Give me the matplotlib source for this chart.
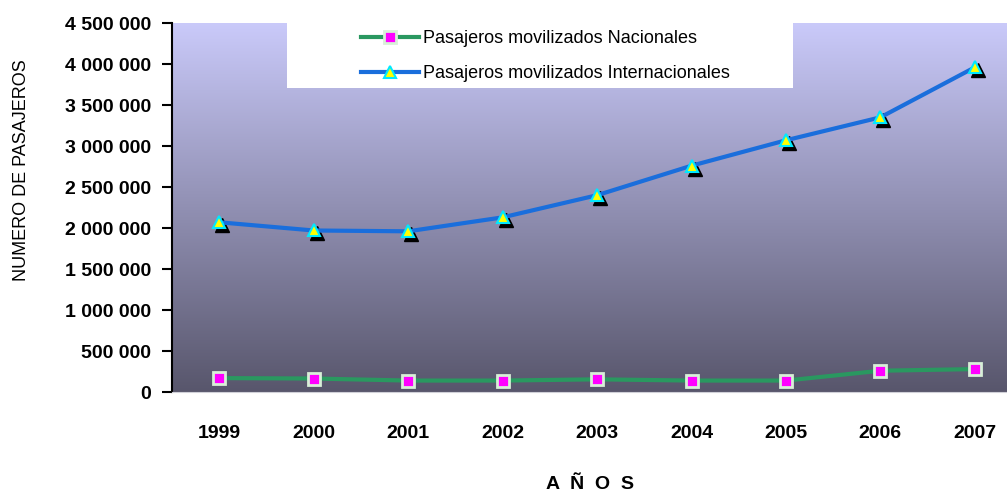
import numpy as np
import matplotlib
matplotlib.use("Agg")
import matplotlib.pyplot as plt
import matplotlib.transforms as mtransforms
from matplotlib.patches import Rectangle
from matplotlib.ticker import FuncFormatter

# data
years = ["1999", "2000", "2001", "2002", "2003", "2004", "2005", "2006", "2007"]
nacionales = [170000, 165000, 140000, 140000, 155000, 140000, 140000, 260000, 280000]
internacionales = [2070000, 1970000, 1960000, 2130000, 2400000, 2760000, 3070000, 3350000, 3960000]

plt.rcParams["font.family"] = ["Liberation Sans", "DejaVu Sans"]

fig = plt.figure(figsize=(10.07, 4.95), dpi=100)
ax = fig.add_axes([0.1708, 0.208, 0.8292, 0.7455])

x = np.arange(len(years))
ax.set_xlim(-0.5, 8.34)
ax.set_ylim(0, 4500000)

# gradient background
grad = np.linspace(0, 1, 256)
top = np.array([202, 202, 250]) / 255
bottom = np.array([88, 86, 108]) / 255
img = (top[None, :] + (bottom - top)[None, :] * grad[:, None]).reshape(256, 1, 3)
ax.imshow(img, extent=[-0.5, 8.34, 0, 4500000], aspect="auto", zorder=0)

# legend box (pixel coords, origin bottom-left)
ax.add_patch(Rectangle((287, 495 - 88), 506, 66, transform=mtransforms.IdentityTransform(),
                       facecolor="white", edgecolor="none", zorder=1))

ax.plot(x, nacionales, color="#2a9860", lw=3, zorder=3,
        marker="s", markersize=9, markerfacecolor="#ff00ff",
        markeredgecolor="#d8f0d8", markeredgewidth=2,
        label="Pasajeros movilizados Nacionales")

# shadow for the triangles
shadow = mtransforms.offset_copy(ax.transData, fig=fig, x=3, y=-3, units="dots")
ax.plot(x, internacionales, ls="none", marker="^", markersize=10,
        color="black", transform=shadow, zorder=3)
ax.plot(x, internacionales, color="#1a6edc", lw=3, zorder=4,
        marker="^", markersize=9, markerfacecolor="#ffff00",
        markeredgecolor="#00e8ff", markeredgewidth=1.5,
        label="Pasajeros movilizados Internacionales")

leg = ax.legend(loc="upper left", bbox_to_anchor=(345 / 1007, 1 - 14 / 495),
                bbox_transform=fig.transFigure, frameon=False, fontsize=13,
                handlelength=3.2, handletextpad=0.2, labelspacing=1.0)
leg.set_zorder(5)

ax.set_xticks(x)
ax.set_xticklabels(years, fontsize=14, fontweight="bold")
ax.tick_params(axis="x", length=0, pad=24)
ax.set_yticks(np.arange(0, 4500001, 500000))
ax.yaxis.set_major_formatter(FuncFormatter(lambda v, p: f"{int(v):,}".replace(",", " ")))
ax.tick_params(axis="y", labelsize=14, length=7, width=1.5, pad=8, direction="out")
for t in ax.get_yticklabels():
    t.set_fontweight("bold")

for s in ["top", "right"]:
    ax.spines[s].set_visible(False)
ax.spines["left"].set_linewidth(1.5)
ax.spines["bottom"].set_color("#d0d0d8")

fig.text(0.021, 0.657, "NUMERO DE PASAJEROS", rotation=90, fontsize=13,
         ha="center", va="center")
fig.text(0.586, 0.022, "A  Ñ  O  S", fontsize=14, fontweight="bold",
         ha="center", va="center")

fig.savefig("out.png", dpi=100)
